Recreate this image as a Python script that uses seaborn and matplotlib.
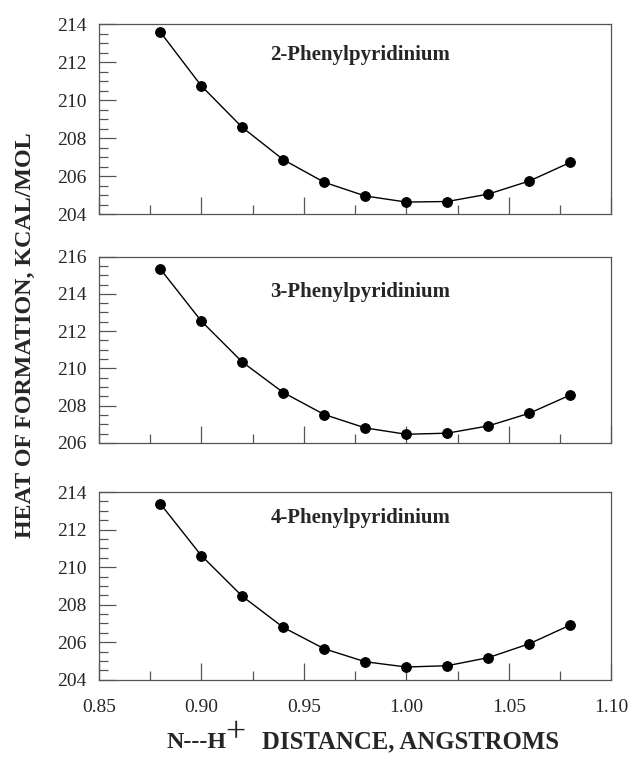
import numpy as np
import pandas as pd
import matplotlib
matplotlib.use("Agg")
import matplotlib.pyplot as plt
from matplotlib.ticker import MultipleLocator
import seaborn as sns

# distancias N---H+ (angstroms)
distancia = [0.88, 0.90, 0.92, 0.94, 0.96, 0.98, 1.00, 1.02, 1.04, 1.06, 1.08]

# calores de formacion (kcal/mol)
fenil_2 = [213.59, 210.76, 208.57, 206.87, 205.68, 204.96, 204.64, 204.67, 205.06, 205.75, 206.73]
fenil_3 = [215.34, 212.54, 210.34, 208.70, 207.52, 206.80, 206.46, 206.52, 206.91, 207.59, 208.57]
fenil_4 = [213.38, 210.62, 208.45, 206.79, 205.65, 204.96, 204.68, 204.75, 205.18, 205.92, 206.92]

nombres = ["2-Phenylpyridinium", "3-Phenylpyridinium", "4-Phenylpyridinium"]
series = [fenil_2, fenil_3, fenil_4]
limites_y = [(204, 214), (206, 216), (204, 214)]
etiquetas_x = ['0.85', '0.90', '0.95', '1.00', '1.05', '1.10']

sns.set_style("ticks")
plt.rcParams['font.family'] = ['Liberation Serif', 'DejaVu Serif']

fig = plt.figure(figsize=(6.29, 7.57), dpi=100)

# posiciones de los paneles [left, bottom, width, height]
posiciones = [[0.157, 0.717, 0.815, 0.251],
              [0.157, 0.415, 0.815, 0.246],
              [0.157, 0.102, 0.815, 0.248]]
pos_titulo = [0.84, 0.81, 0.86]

gris = '#555555'
for i in range(3):
    ax = fig.add_axes(posiciones[i])
    df = pd.DataFrame({'x': distancia, 'y': series[i]})
    sns.lineplot(data=df, x='x', y='y', ax=ax, color='black', linewidth=1.0,
                 marker='o', markersize=7, markeredgecolor='black')
    ax.set_xlim(0.85, 1.10)
    ax.set_ylim(*limites_y[i])
    ax.xaxis.set_major_locator(MultipleLocator(0.05))
    ax.xaxis.set_minor_locator(MultipleLocator(0.025))
    ax.yaxis.set_major_locator(MultipleLocator(2))
    ax.yaxis.set_minor_locator(MultipleLocator(0.5))
    ax.tick_params(which='both', direction='in', color=gris, width=0.9,
                   labelsize=14, top=False, right=False)
    ax.tick_params(which='major', length=12)
    ax.tick_params(which='minor', length=6.5)
    ax.tick_params(axis='y', pad=9)
    for s in ax.spines.values():
        s.set_visible(True)
        s.set_color(gris)
        s.set_linewidth(0.9)
    ax.set_xlabel('')
    ax.set_ylabel('')
    if i < 2:
        ax.set_xticklabels([])
    else:
        ax.set_xticks([float(e) for e in etiquetas_x])
        ax.set_xticklabels(etiquetas_x)
        ax.tick_params(axis='x', pad=14)
    ax.text(0.51, pos_titulo[i], nombres[i], transform=ax.transAxes,
            ha='center', va='center', fontsize=15, fontweight='bold')

fig.text(0.041, 0.557, 'HEAT OF FORMATION, KCAL/MOL', rotation=90,
         ha='center', va='center', fontsize=17.3, fontweight='bold')

# etiqueta del eje x en tres partes (el "+" es grande y elevado)
y_base = 0.012
fig.text(227 / 629, y_base, 'N---H', ha='right', va='baseline',
         fontsize=17.3, fontweight='bold')
fig.text(235 / 629, y_base + 0.007, '+', ha='center', va='baseline',
         fontsize=26)
fig.text(262 / 629, y_base, 'DISTANCE, ANGSTROMS', ha='left', va='baseline',
         fontsize=17.8, fontweight='bold')

fig.savefig('out.png', dpi=100)
